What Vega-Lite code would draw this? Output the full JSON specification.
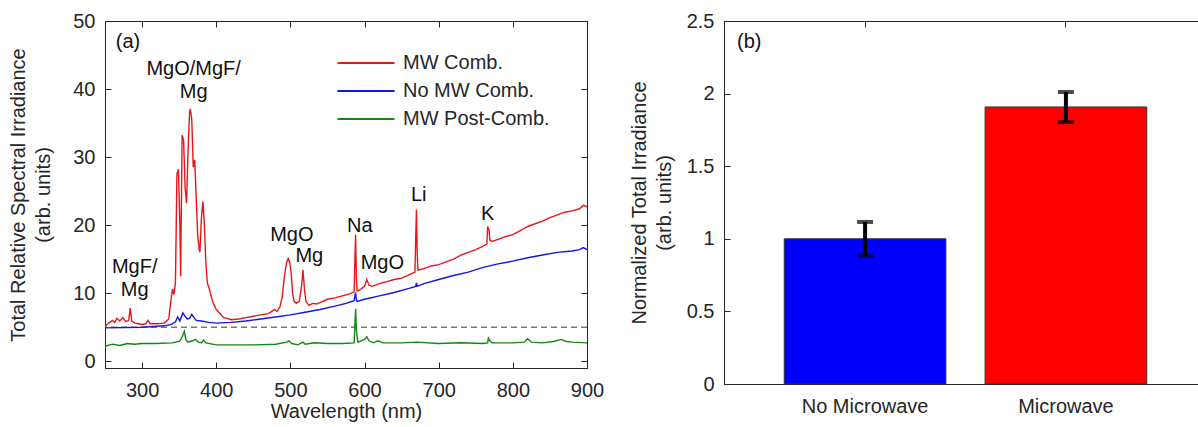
{
  "$schema": "https://vega.github.io/schema/vega-lite/v6.json",
  "padding": {"left": 8, "top": 10, "right": 0, "bottom": 0},
  "spacing": 23,
  "resolve": {"scale": {"color": "independent"}, "legend": {"color": "independent"}},
  "config": {
    "font": "Liberation Sans",
    "view": {"stroke": "#262626", "strokeWidth": 1},
    "axis": {"labelFontSize": 20, "titleFontSize": 20, "titleFontWeight": "normal", "labelColor": "#262626", "titleColor": "#262626", "domainColor": "#262626", "tickColor": "#262626", "grid": false, "tickSize": -6, "labelFlush": false, "labelOverlap": false, "labelFont": "Liberation Sans", "titleFont": "Liberation Sans"},
    "axisX": {"labelPadding": 18, "titlePadding": 1},
    "axisY": {"labelPadding": 16, "titleLineHeight": 25},
    "legend": {"labelFont": "Liberation Sans", "labelFontSize": 20, "labelColor": "#262626"}
  },
  "datasets": {
    "spectra": [
      {"series":"MW Comb.","wavelength":250,"irradiance":5.1},{"series":"MW Comb.","wavelength":255,"irradiance":5.6},{"series":"MW Comb.","wavelength":260,"irradiance":6.0},{"series":"MW Comb.","wavelength":263,"irradiance":5.7},{"series":"MW Comb.","wavelength":266,"irradiance":6.3},{"series":"MW Comb.","wavelength":270,"irradiance":5.9},{"series":"MW Comb.","wavelength":274,"irradiance":6.4},{"series":"MW Comb.","wavelength":278,"irradiance":5.8},{"series":"MW Comb.","wavelength":282,"irradiance":6.0},{"series":"MW Comb.","wavelength":284,"irradiance":7.8},{"series":"MW Comb.","wavelength":286,"irradiance":5.9},{"series":"MW Comb.","wavelength":290,"irradiance":5.6},{"series":"MW Comb.","wavelength":295,"irradiance":5.5},{"series":"MW Comb.","wavelength":300,"irradiance":5.4},{"series":"MW Comb.","wavelength":305,"irradiance":5.5},{"series":"MW Comb.","wavelength":308,"irradiance":6.0},{"series":"MW Comb.","wavelength":311,"irradiance":5.5},{"series":"MW Comb.","wavelength":320,"irradiance":5.5},{"series":"MW Comb.","wavelength":330,"irradiance":5.6},{"series":"MW Comb.","wavelength":336,"irradiance":6.2},{"series":"MW Comb.","wavelength":339,"irradiance":9.0},{"series":"MW Comb.","wavelength":341,"irradiance":10.6},{"series":"MW Comb.","wavelength":343,"irradiance":9.8},{"series":"MW Comb.","wavelength":345,"irradiance":11.5},{"series":"MW Comb.","wavelength":347,"irradiance":27.5},{"series":"MW Comb.","wavelength":349,"irradiance":28.2},{"series":"MW Comb.","wavelength":351,"irradiance":20},{"series":"MW Comb.","wavelength":352,"irradiance":12.5},{"series":"MW Comb.","wavelength":354,"irradiance":33.2},{"series":"MW Comb.","wavelength":356,"irradiance":32.5},{"series":"MW Comb.","wavelength":358,"irradiance":25.5},{"series":"MW Comb.","wavelength":360,"irradiance":23.2},{"series":"MW Comb.","wavelength":362,"irradiance":31},{"series":"MW Comb.","wavelength":364,"irradiance":36.5},{"series":"MW Comb.","wavelength":365,"irradiance":37.1},{"series":"MW Comb.","wavelength":367,"irradiance":35.5},{"series":"MW Comb.","wavelength":369,"irradiance":28.5},{"series":"MW Comb.","wavelength":371,"irradiance":29.6},{"series":"MW Comb.","wavelength":373,"irradiance":24},{"series":"MW Comb.","wavelength":375,"irradiance":18.5},{"series":"MW Comb.","wavelength":377,"irradiance":16.5},{"series":"MW Comb.","wavelength":378,"irradiance":16},{"series":"MW Comb.","wavelength":380,"irradiance":21},{"series":"MW Comb.","wavelength":382,"irradiance":23.5},{"series":"MW Comb.","wavelength":384,"irradiance":20},{"series":"MW Comb.","wavelength":386,"irradiance":14.5},{"series":"MW Comb.","wavelength":388,"irradiance":11.5},{"series":"MW Comb.","wavelength":391,"irradiance":10.5},{"series":"MW Comb.","wavelength":395,"irradiance":8.8},{"series":"MW Comb.","wavelength":400,"irradiance":7.6},{"series":"MW Comb.","wavelength":405,"irradiance":7.0},{"series":"MW Comb.","wavelength":410,"irradiance":6.4},{"series":"MW Comb.","wavelength":415,"irradiance":6.3},{"series":"MW Comb.","wavelength":420,"irradiance":6.1},{"series":"MW Comb.","wavelength":430,"irradiance":6.2},{"series":"MW Comb.","wavelength":440,"irradiance":6.4},{"series":"MW Comb.","wavelength":450,"irradiance":6.6},{"series":"MW Comb.","wavelength":460,"irradiance":6.8},{"series":"MW Comb.","wavelength":470,"irradiance":7.0},{"series":"MW Comb.","wavelength":476,"irradiance":7.4},{"series":"MW Comb.","wavelength":479,"irradiance":7.6},{"series":"MW Comb.","wavelength":482,"irradiance":7.3},{"series":"MW Comb.","wavelength":486,"irradiance":8.0},{"series":"MW Comb.","wavelength":489,"irradiance":9.5},{"series":"MW Comb.","wavelength":492,"irradiance":12.5},{"series":"MW Comb.","wavelength":495,"irradiance":14.6},{"series":"MW Comb.","wavelength":497,"irradiance":15.1},{"series":"MW Comb.","wavelength":499,"irradiance":14.6},{"series":"MW Comb.","wavelength":501,"irradiance":13},{"series":"MW Comb.","wavelength":503,"irradiance":10},{"series":"MW Comb.","wavelength":505,"irradiance":8.8},{"series":"MW Comb.","wavelength":508,"irradiance":8.5},{"series":"MW Comb.","wavelength":512,"irradiance":8.8},{"series":"MW Comb.","wavelength":515,"irradiance":11},{"series":"MW Comb.","wavelength":517,"irradiance":13.4},{"series":"MW Comb.","wavelength":519,"irradiance":10.5},{"series":"MW Comb.","wavelength":521,"irradiance":8.8},{"series":"MW Comb.","wavelength":525,"irradiance":8.2},{"series":"MW Comb.","wavelength":530,"irradiance":8.5},{"series":"MW Comb.","wavelength":535,"irradiance":8.4},{"series":"MW Comb.","wavelength":540,"irradiance":8.6},{"series":"MW Comb.","wavelength":550,"irradiance":9.1},{"series":"MW Comb.","wavelength":560,"irradiance":9.3},{"series":"MW Comb.","wavelength":570,"irradiance":9.6},{"series":"MW Comb.","wavelength":580,"irradiance":9.9},{"series":"MW Comb.","wavelength":586,"irradiance":10.2},{"series":"MW Comb.","wavelength":587,"irradiance":15},{"series":"MW Comb.","wavelength":588,"irradiance":18.6},{"series":"MW Comb.","wavelength":589,"irradiance":12},{"series":"MW Comb.","wavelength":590,"irradiance":10.3},{"series":"MW Comb.","wavelength":595,"irradiance":10.6},{"series":"MW Comb.","wavelength":600,"irradiance":11.0},{"series":"MW Comb.","wavelength":603,"irradiance":12.0},{"series":"MW Comb.","wavelength":606,"irradiance":11.2},{"series":"MW Comb.","wavelength":610,"irradiance":11.0},{"series":"MW Comb.","wavelength":620,"irradiance":11.4},{"series":"MW Comb.","wavelength":630,"irradiance":11.7},{"series":"MW Comb.","wavelength":640,"irradiance":12.0},{"series":"MW Comb.","wavelength":650,"irradiance":12.2},{"series":"MW Comb.","wavelength":660,"irradiance":12.7},{"series":"MW Comb.","wavelength":668,"irradiance":13.1},{"series":"MW Comb.","wavelength":669,"irradiance":18},{"series":"MW Comb.","wavelength":670,"irradiance":22.3},{"series":"MW Comb.","wavelength":671,"irradiance":16},{"series":"MW Comb.","wavelength":672,"irradiance":13.4},{"series":"MW Comb.","wavelength":680,"irradiance":13.6},{"series":"MW Comb.","wavelength":690,"irradiance":14.0},{"series":"MW Comb.","wavelength":700,"irradiance":14.2},{"series":"MW Comb.","wavelength":710,"irradiance":14.6},{"series":"MW Comb.","wavelength":720,"irradiance":15.0},{"series":"MW Comb.","wavelength":730,"irradiance":15.6},{"series":"MW Comb.","wavelength":740,"irradiance":16.0},{"series":"MW Comb.","wavelength":750,"irradiance":16.4},{"series":"MW Comb.","wavelength":760,"irradiance":16.9},{"series":"MW Comb.","wavelength":765,"irradiance":17.2},{"series":"MW Comb.","wavelength":766,"irradiance":19.8},{"series":"MW Comb.","wavelength":768,"irradiance":19.2},{"series":"MW Comb.","wavelength":769,"irradiance":17.8},{"series":"MW Comb.","wavelength":772,"irradiance":17.6},{"series":"MW Comb.","wavelength":780,"irradiance":17.9},{"series":"MW Comb.","wavelength":790,"irradiance":18.3},{"series":"MW Comb.","wavelength":800,"irradiance":18.6},{"series":"MW Comb.","wavelength":810,"irradiance":19.2},{"series":"MW Comb.","wavelength":820,"irradiance":19.8},{"series":"MW Comb.","wavelength":830,"irradiance":20.2},{"series":"MW Comb.","wavelength":840,"irradiance":20.6},{"series":"MW Comb.","wavelength":850,"irradiance":21.1},{"series":"MW Comb.","wavelength":860,"irradiance":21.5},{"series":"MW Comb.","wavelength":870,"irradiance":21.9},{"series":"MW Comb.","wavelength":880,"irradiance":22.1},{"series":"MW Comb.","wavelength":890,"irradiance":22.4},{"series":"MW Comb.","wavelength":895,"irradiance":22.9},{"series":"MW Comb.","wavelength":900,"irradiance":22.7},
      {"series":"No MW Comb.","wavelength":250,"irradiance":4.9},{"series":"No MW Comb.","wavelength":300,"irradiance":5.0},{"series":"No MW Comb.","wavelength":330,"irradiance":5.2},{"series":"No MW Comb.","wavelength":340,"irradiance":5.4},{"series":"No MW Comb.","wavelength":345,"irradiance":5.8},{"series":"No MW Comb.","wavelength":348,"irradiance":6.5},{"series":"No MW Comb.","wavelength":351,"irradiance":5.9},{"series":"No MW Comb.","wavelength":355,"irradiance":7.1},{"series":"No MW Comb.","wavelength":358,"irradiance":6.6},{"series":"No MW Comb.","wavelength":361,"irradiance":6.2},{"series":"No MW Comb.","wavelength":364,"irradiance":6.3},{"series":"No MW Comb.","wavelength":367,"irradiance":6.9},{"series":"No MW Comb.","wavelength":370,"irradiance":6.4},{"series":"No MW Comb.","wavelength":373,"irradiance":6.0},{"series":"No MW Comb.","wavelength":380,"irradiance":5.9},{"series":"No MW Comb.","wavelength":390,"irradiance":5.7},{"series":"No MW Comb.","wavelength":400,"irradiance":5.6},{"series":"No MW Comb.","wavelength":420,"irradiance":5.7},{"series":"No MW Comb.","wavelength":440,"irradiance":5.9},{"series":"No MW Comb.","wavelength":460,"irradiance":6.2},{"series":"No MW Comb.","wavelength":480,"irradiance":6.5},{"series":"No MW Comb.","wavelength":500,"irradiance":6.8},{"series":"No MW Comb.","wavelength":520,"irradiance":7.2},{"series":"No MW Comb.","wavelength":540,"irradiance":7.6},{"series":"No MW Comb.","wavelength":560,"irradiance":8.1},{"series":"No MW Comb.","wavelength":575,"irradiance":8.5},{"series":"No MW Comb.","wavelength":586,"irradiance":8.9},{"series":"No MW Comb.","wavelength":587,"irradiance":9.6},{"series":"No MW Comb.","wavelength":588,"irradiance":10.1},{"series":"No MW Comb.","wavelength":589,"irradiance":9.0},{"series":"No MW Comb.","wavelength":590,"irradiance":8.8},{"series":"No MW Comb.","wavelength":600,"irradiance":9.1},{"series":"No MW Comb.","wavelength":620,"irradiance":9.6},{"series":"No MW Comb.","wavelength":640,"irradiance":10.1},{"series":"No MW Comb.","wavelength":660,"irradiance":10.7},{"series":"No MW Comb.","wavelength":669,"irradiance":11.0},{"series":"No MW Comb.","wavelength":670,"irradiance":11.5},{"series":"No MW Comb.","wavelength":671,"irradiance":11.0},{"series":"No MW Comb.","wavelength":680,"irradiance":11.4},{"series":"No MW Comb.","wavelength":700,"irradiance":12.0},{"series":"No MW Comb.","wavelength":720,"irradiance":12.6},{"series":"No MW Comb.","wavelength":740,"irradiance":13.1},{"series":"No MW Comb.","wavelength":760,"irradiance":13.8},{"series":"No MW Comb.","wavelength":780,"irradiance":14.3},{"series":"No MW Comb.","wavelength":800,"irradiance":14.7},{"series":"No MW Comb.","wavelength":820,"irradiance":15.2},{"series":"No MW Comb.","wavelength":840,"irradiance":15.6},{"series":"No MW Comb.","wavelength":860,"irradiance":16.0},{"series":"No MW Comb.","wavelength":880,"irradiance":16.2},{"series":"No MW Comb.","wavelength":890,"irradiance":16.4},{"series":"No MW Comb.","wavelength":895,"irradiance":16.7},{"series":"No MW Comb.","wavelength":900,"irradiance":16.4},
      {"series":"MW Post-Comb.","wavelength":250,"irradiance":2.2},{"series":"MW Post-Comb.","wavelength":260,"irradiance":2.5},{"series":"MW Post-Comb.","wavelength":270,"irradiance":2.3},{"series":"MW Post-Comb.","wavelength":280,"irradiance":2.6},{"series":"MW Post-Comb.","wavelength":290,"irradiance":2.5},{"series":"MW Post-Comb.","wavelength":300,"irradiance":2.6},{"series":"MW Post-Comb.","wavelength":320,"irradiance":2.6},{"series":"MW Post-Comb.","wavelength":340,"irradiance":2.7},{"series":"MW Post-Comb.","wavelength":350,"irradiance":2.9},{"series":"MW Post-Comb.","wavelength":353,"irradiance":3.3},{"series":"MW Post-Comb.","wavelength":357,"irradiance":4.4},{"series":"MW Post-Comb.","wavelength":359,"irradiance":3.2},{"series":"MW Post-Comb.","wavelength":362,"irradiance":2.8},{"series":"MW Post-Comb.","wavelength":368,"irradiance":3.0},{"series":"MW Post-Comb.","wavelength":372,"irradiance":3.2},{"series":"MW Post-Comb.","wavelength":376,"irradiance":2.8},{"series":"MW Post-Comb.","wavelength":380,"irradiance":2.7},{"series":"MW Post-Comb.","wavelength":383,"irradiance":3.1},{"series":"MW Post-Comb.","wavelength":386,"irradiance":2.7},{"series":"MW Post-Comb.","wavelength":400,"irradiance":2.4},{"series":"MW Post-Comb.","wavelength":420,"irradiance":2.4},{"series":"MW Post-Comb.","wavelength":450,"irradiance":2.4},{"series":"MW Post-Comb.","wavelength":480,"irradiance":2.5},{"series":"MW Post-Comb.","wavelength":495,"irradiance":2.8},{"series":"MW Post-Comb.","wavelength":498,"irradiance":3.0},{"series":"MW Post-Comb.","wavelength":502,"irradiance":2.6},{"series":"MW Post-Comb.","wavelength":510,"irradiance":2.4},{"series":"MW Post-Comb.","wavelength":517,"irradiance":2.8},{"series":"MW Post-Comb.","wavelength":520,"irradiance":2.5},{"series":"MW Post-Comb.","wavelength":532,"irradiance":2.7},{"series":"MW Post-Comb.","wavelength":550,"irradiance":2.6},{"series":"MW Post-Comb.","wavelength":570,"irradiance":2.6},{"series":"MW Post-Comb.","wavelength":586,"irradiance":2.7},{"series":"MW Post-Comb.","wavelength":587,"irradiance":5.5},{"series":"MW Post-Comb.","wavelength":588,"irradiance":7.7},{"series":"MW Post-Comb.","wavelength":589,"irradiance":4.5},{"series":"MW Post-Comb.","wavelength":591,"irradiance":2.8},{"series":"MW Post-Comb.","wavelength":600,"irradiance":3.2},{"series":"MW Post-Comb.","wavelength":603,"irradiance":3.6},{"series":"MW Post-Comb.","wavelength":606,"irradiance":3.0},{"series":"MW Post-Comb.","wavelength":612,"irradiance":2.7},{"series":"MW Post-Comb.","wavelength":618,"irradiance":3.0},{"series":"MW Post-Comb.","wavelength":625,"irradiance":2.7},{"series":"MW Post-Comb.","wavelength":650,"irradiance":2.7},{"series":"MW Post-Comb.","wavelength":670,"irradiance":2.8},{"series":"MW Post-Comb.","wavelength":700,"irradiance":2.6},{"series":"MW Post-Comb.","wavelength":730,"irradiance":2.7},{"series":"MW Post-Comb.","wavelength":760,"irradiance":2.6},{"series":"MW Post-Comb.","wavelength":766,"irradiance":2.7},{"series":"MW Post-Comb.","wavelength":767,"irradiance":3.4},{"series":"MW Post-Comb.","wavelength":769,"irradiance":3.0},{"series":"MW Post-Comb.","wavelength":772,"irradiance":2.7},{"series":"MW Post-Comb.","wavelength":800,"irradiance":2.7},{"series":"MW Post-Comb.","wavelength":815,"irradiance":2.8},{"series":"MW Post-Comb.","wavelength":820,"irradiance":3.3},{"series":"MW Post-Comb.","wavelength":825,"irradiance":2.8},{"series":"MW Post-Comb.","wavelength":840,"irradiance":2.7},{"series":"MW Post-Comb.","wavelength":855,"irradiance":2.9},{"series":"MW Post-Comb.","wavelength":865,"irradiance":3.2},{"series":"MW Post-Comb.","wavelength":872,"irradiance":2.9},{"series":"MW Post-Comb.","wavelength":880,"irradiance":2.8},{"series":"MW Post-Comb.","wavelength":900,"irradiance":2.7}
    ],
    "labels": [
      {"label":"(a)","wavelength":281,"irradiance":46.9},
      {"label":"MgO/MgF/","wavelength":369.5,"irradiance":42.9},
      {"label":"Mg","wavelength":369.5,"irradiance":39.6},
      {"label":"MgF/","wavelength":290,"irradiance":13.9},
      {"label":"Mg","wavelength":290,"irradiance":10.4},
      {"label":"MgO","wavelength":502,"irradiance":18.6},
      {"label":"Mg","wavelength":525.5,"irradiance":15.5},
      {"label":"Na","wavelength":593.5,"irradiance":19.8},
      {"label":"MgO","wavelength":624,"irradiance":14.4},
      {"label":"Li","wavelength":673,"irradiance":24.4},
      {"label":"K","wavelength":766,"irradiance":21.7}
    ],
    "totals": [
      {"condition":"No Microwave","irradiance":1.0,"lower":0.884,"upper":1.116},
      {"condition":"Microwave","irradiance":1.908,"lower":1.804,"upper":2.011}
    ]
  },
  "hconcat": [
    {
      "width": 482,
      "height": 347,
      "layer": [
        {
          "data": {"values": [{"baseline": 5}]},
          "mark": {"type": "rule", "strokeDash": [6, 4], "color": "#333333", "strokeWidth": 1},
          "encoding": {
            "y": {"field": "baseline", "type": "quantitative", "axis": null}
          }
        },
        {
          "data": {"name": "spectra"},
          "mark": {"type": "line", "strokeWidth": 1.4},
          "encoding": {
            "x": {"field": "wavelength", "type": "quantitative", "scale": {"domain": [250, 900], "nice": false, "zero": false}, "axis": {"values": [300, 400, 500, 600, 700, 800, 900], "title": "Wavelength (nm)"}},
            "y": {"field": "irradiance", "type": "quantitative", "scale": {"domain": [-1, 50], "nice": false, "zero": false}, "axis": {"values": [0, 10, 20, 30, 40, 50], "title": ["Total Relative Spectral Irradiance", "(arb. units)"], "titlePadding": 19}},
            "color": {"field": "series", "type": "nominal", "sort": ["MW Comb.", "No MW Comb.", "MW Post-Comb."], "scale": {"domain": ["MW Comb.", "No MW Comb.", "MW Post-Comb."], "range": ["#e8161b", "#1515e0", "#138613"]},
              "legend": {"title": null, "orient": "none", "legendX": 250, "legendY": 31, "symbolType": "M-2.85,0H2.85", "symbolSize": 400, "symbolStrokeWidth": 2, "labelOffset": 26, "rowPadding": 7, "padding": 0}}
          }
        },
        {
          "data": {"name": "labels"},
          "mark": {"type": "text", "fontSize": 20, "color": "#111111", "align": "center", "baseline": "middle", "font": "Liberation Sans"},
          "encoding": {
            "x": {"field": "wavelength", "type": "quantitative", "axis": {"orient": "top", "labels": false, "title": null, "domain": false, "values": [300, 400, 500, 600, 700, 800, 900]}},
            "y": {"field": "irradiance", "type": "quantitative", "axis": {"orient": "right", "labels": false, "title": null, "domain": false, "values": [0, 10, 20, 30, 40, 50]}},
            "text": {"field": "label"}
          }
        }
      ],
      "resolve": {"axis": {"x": "independent", "y": "independent"}}
    },
    {
      "width": 483,
      "height": 363,
      "data": {"name": "totals"},
      "layer": [
        {
          "mark": {"type": "bar", "stroke": "#333333", "strokeWidth": 1},
          "encoding": {
            "x": {"field": "condition", "type": "nominal", "sort": ["No Microwave", "Microwave"], "scale": {"paddingInner": 0.195, "paddingOuter": 0.3}, "axis": {"title": null, "labelAngle": 0}},
            "y": {"field": "irradiance", "type": "quantitative", "scale": {"domain": [0, 2.5], "nice": false}, "axis": {"values": [0, 0.5, 1, 1.5, 2, 2.5], "format": "~g", "title": ["Normalized Total Irradiance", "(arb. units)"], "titlePadding": 12}},
            "color": {"field": "condition", "type": "nominal", "scale": {"domain": ["No Microwave", "Microwave"], "range": ["#0000ff", "#ff0000"]}, "legend": null}
          }
        },
        {
          "mark": {"type": "rule", "color": "#000000", "strokeWidth": 4},
          "encoding": {
            "x": {"field": "condition", "type": "nominal", "sort": ["No Microwave", "Microwave"], "axis": {"orient": "top", "labels": false, "title": null, "domain": false}},
            "y": {"field": "lower", "type": "quantitative", "axis": {"orient": "right", "labels": false, "title": null, "domain": false, "values": [0, 0.5, 1, 1.5, 2, 2.5]}},
            "y2": {"field": "upper"}
          }
        },
        {
          "mark": {"type": "tick", "color": "#000000", "thickness": 4, "size": 16},
          "encoding": {
            "x": {"field": "condition", "type": "nominal", "sort": ["No Microwave", "Microwave"], "axis": null},
            "y": {"field": "lower", "type": "quantitative", "axis": null}
          }
        },
        {
          "mark": {"type": "tick", "color": "#000000", "thickness": 4, "size": 16},
          "encoding": {
            "x": {"field": "condition", "type": "nominal", "sort": ["No Microwave", "Microwave"], "axis": null},
            "y": {"field": "upper", "type": "quantitative", "axis": null}
          }
        },
        {
          "data": {"values": [{"panel": "(b)"}]},
          "mark": {"type": "text", "fontSize": 20, "color": "#111111", "align": "center", "baseline": "middle", "dx": -35, "font": "Liberation Sans"},
          "encoding": {
            "x": {"datum": "No Microwave", "type": "nominal", "bandPosition": 0, "axis": null},
            "y": {"datum": 2.355, "type": "quantitative", "axis": null},
            "text": {"field": "panel"}
          }
        }
      ],
      "resolve": {"axis": {"x": "independent", "y": "independent"}}
    }
  ]
}
